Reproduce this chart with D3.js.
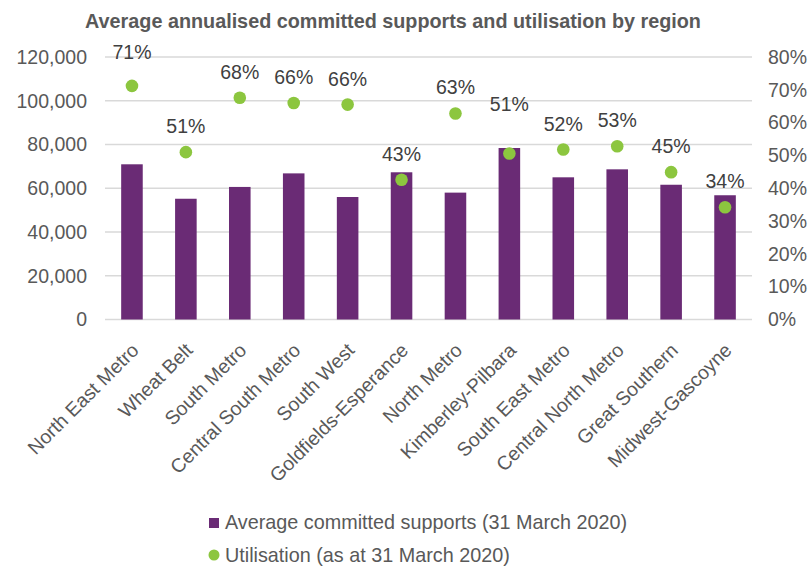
<!DOCTYPE html>
<html>
<head>
<meta charset="utf-8">
<script src="https://cdn.jsdelivr.net/npm/d3@7"></script>
<style>
  html, body { margin: 0; padding: 0; background: #fff; }
  svg { display: block; font-family: "Liberation Sans", Arial, sans-serif; }
</style>
</head>
<body>
<svg id="chart" width="810" height="569"></svg>
<script>
const regions = ["North East Metro", "Wheat Belt", "South Metro", "Central South Metro", "South West",
  "Goldfields-Esperance", "North Metro", "Kimberley-Pilbara", "South East Metro", "Central North Metro",
  "Great Southern", "Midwest-Gascoyne"];
const committed = [70950, 55200, 60600, 66800, 56000, 67300, 58000, 78400, 65000, 68650, 61600, 56800];
const utilisation = [0.712, 0.51, 0.676, 0.66, 0.655, 0.426, 0.628, 0.506, 0.518, 0.528, 0.449, 0.342];
const leftTicks = [0, 20000, 40000, 60000, 80000, 100000, 120000];
const rightTicks = [0, 0.1, 0.2, 0.3, 0.4, 0.5, 0.6, 0.7, 0.8];
const titleText = "Average annualised committed supports and utilisation by region";
const seriesNames = ["Average committed supports (31 March 2020)", "Utilisation (as at 31 March 2020)"];

// label lift tweaks (styling)
const labelLift = {"North East Metro": 34, "Kimberley-Pilbara": 49};

const svg = d3.select("#chart");
const m = {left: 105, right: 752, top: 57, bottom: 319.5};
const FONT = 19.5;
const BIG = 19.8;

const x = d3.scaleBand().domain(regions).range([m.left, m.right]).paddingInner(0.6).paddingOuter(0.3);
const y = d3.scaleLinear().domain([0, 120000]).range([m.bottom, m.top]);
const y2 = d3.scaleLinear().domain([0, 0.8]).range([m.bottom, m.top]);

// title
svg.append("text").attr("x", 393).attr("y", 28).attr("text-anchor", "middle")
  .attr("font-size", BIG).attr("font-weight", "bold").attr("fill", "#595959").text(titleText);

// gridlines
svg.append("g").selectAll("line").data(leftTicks).join("line")
  .attr("x1", m.left).attr("x2", m.right)
  .attr("y1", d => y(d)).attr("y2", d => y(d))
  .attr("stroke", "#d9d9d9").attr("stroke-width", 1.3);

// left axis
const gl = svg.append("g").attr("transform", `translate(${m.left},0)`)
  .call(d3.axisLeft(y).tickValues(leftTicks).tickFormat(d3.format(",")).tickSize(0).tickPadding(18));
gl.select(".domain").remove();
gl.selectAll("text").attr("font-size", FONT).attr("fill", "#595959").attr("font-family", "Liberation Sans, Arial, sans-serif");

// right axis
const gr = svg.append("g").attr("transform", `translate(${m.right},0)`)
  .call(d3.axisRight(y2).tickValues(rightTicks).tickFormat(d3.format(".0%")).tickSize(0).tickPadding(16));
gr.select(".domain").remove();
gr.selectAll("text").attr("font-size", FONT).attr("fill", "#595959").attr("font-family", "Liberation Sans, Arial, sans-serif");

// bars
svg.append("g").selectAll("rect").data(regions).join("rect")
  .attr("x", d => x(d)).attr("width", x.bandwidth())
  .attr("y", (d, i) => y(committed[i])).attr("height", (d, i) => y(0) - y(committed[i]))
  .attr("fill", "#6a2b75");

// x axis labels
const gx = svg.append("g").attr("transform", `translate(0,${m.bottom})`)
  .call(d3.axisBottom(x).tickSize(0).tickPadding(0));
gx.select(".domain").remove();
gx.selectAll("text")
  .attr("font-size", FONT).attr("fill", "#595959").attr("font-family", "Liberation Sans, Arial, sans-serif")
  .attr("text-anchor", "end")
  .attr("dy", null).attr("y", 0)
  .attr("transform", "translate(8,32) rotate(-45)");

// dots
const cx = d => x(d) + x.bandwidth() / 2;
svg.append("g").selectAll("circle").data(regions).join("circle")
  .attr("cx", cx).attr("cy", (d, i) => y2(utilisation[i])).attr("r", 6.3)
  .attr("fill", "#8cc63f");

// data labels
svg.append("g").selectAll("text").data(regions).join("text")
  .attr("x", cx).attr("y", (d, i) => y2(utilisation[i]) - (labelLift[d] || 26) + 7)
  .attr("text-anchor", "middle").attr("font-size", FONT).attr("fill", "#404040")
  .text((d, i) => Math.round(utilisation[i] * 100) + "%");

// legend
const lg = svg.append("g");
lg.append("rect").attr("x", 209).attr("y", 518).attr("width", 10).attr("height", 10).attr("fill", "#6a2b75");
lg.append("text").attr("x", 225).attr("y", 529).attr("font-size", BIG).attr("fill", "#595959").text(seriesNames[0]);
lg.append("circle").attr("cx", 214).attr("cy", 555).attr("r", 5.5).attr("fill", "#8cc63f");
lg.append("text").attr("x", 225).attr("y", 562).attr("font-size", BIG).attr("fill", "#595959").text(seriesNames[1]);
</script>
</body>
</html>
